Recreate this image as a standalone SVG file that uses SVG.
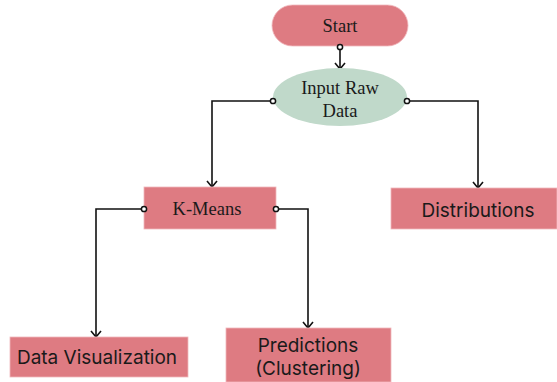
<svg xmlns="http://www.w3.org/2000/svg" width="557" height="382" viewBox="0 0 557 382">
<style>
.box{fill:#DE7B82;stroke:#F0B8BC;stroke-width:0.8}
.ell{fill:#C0D9CA}
.serif{font-family:"Liberation Serif","Times New Roman",serif;font-size:18.5px;fill:#1a1a1a;text-anchor:middle}
.sans{font-family:Inter,"Noto Sans","Liberation Sans",sans-serif;font-size:19px;fill:#1a1a1a;text-anchor:middle}
.edge{fill:none;stroke:#111;stroke-width:1.6}
.dot{fill:#fff;stroke:#111;stroke-width:1.5}
</style>
<rect width="557" height="382" fill="#fff"/>
<g id="connectors">
<path class="edge" d="M340,48 V69"/>
<path class="edge" d="M335,63 L340,69 L345,63"/>
<path class="edge" d="M273,101 H212 V187"/>
<path class="edge" d="M207,181 L212,187 L217,181"/>
<path class="edge" d="M407,101 H478 V188"/>
<path class="edge" d="M473,182 L478,188 L483,182"/>
<path class="edge" d="M144,209 H96 V337"/>
<path class="edge" d="M91,331 L96,337 L101,331"/>
<path class="edge" d="M276,209 H308 V328"/>
<path class="edge" d="M303,322 L308,328 L313,322"/>
</g>
<g id="start">
<rect class="box" x="272" y="5" width="136" height="41" rx="20.5"/>
<text class="serif" x="340" y="32">Start</text>
</g>
<g id="input">
<ellipse class="ell" cx="340" cy="97" rx="67" ry="29"/>
<text class="serif" x="340" y="94">Input Raw</text>
<text class="serif" x="340" y="117">Data</text>
</g>
<g id="kmeans">
<rect class="box" x="144" y="187" width="132" height="42"/>
<text class="serif" x="207" y="215">K-Means</text>
</g>
<g id="distributions">
<rect class="box" x="391" y="188" width="166" height="41"/>
<text class="sans" x="478" y="217">Distributions</text>
</g>
<g id="dataviz">
<rect class="box" x="10" y="337" width="178" height="40"/>
<text class="sans" x="97" y="364">Data Visualization</text>
</g>
<g id="predictions">
<rect class="box" x="226" y="328" width="165" height="54"/>
<text class="sans" x="308" y="352">Predictions</text>
<text class="sans" x="308" y="375">(Clustering)</text>
</g>
<g id="ports">
<circle class="dot" cx="340" cy="47" r="2.6"/>
<circle class="dot" cx="273" cy="101" r="2.6"/>
<circle class="dot" cx="407" cy="101" r="2.6"/>
<circle class="dot" cx="144" cy="209" r="2.6"/>
<circle class="dot" cx="276" cy="209" r="2.6"/>
</g>
</svg>
